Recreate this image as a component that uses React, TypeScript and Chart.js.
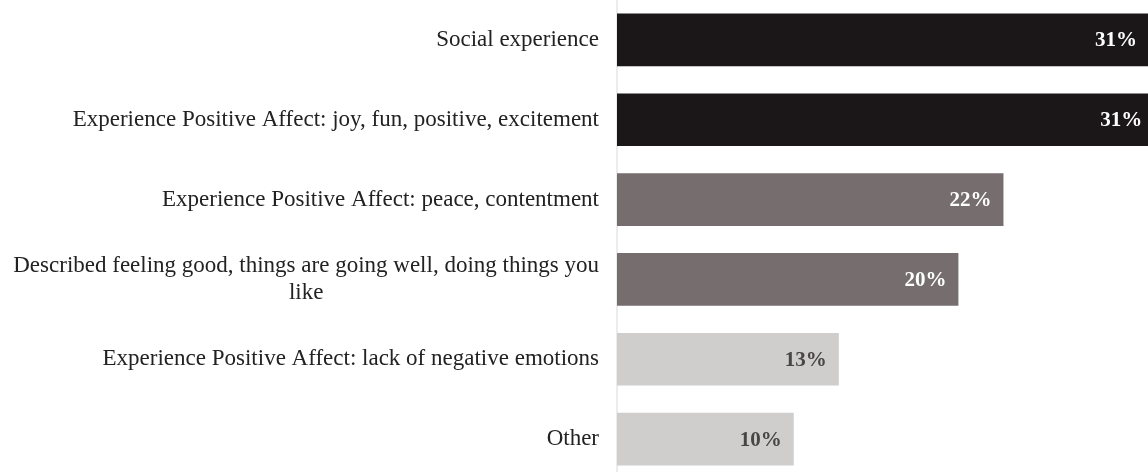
import React, { useEffect, useRef } from "react";
import { Chart, registerables } from "chart.js";

Chart.register(...registerables);

// ---- data ----
const categories: (string | string[])[] = [
  "Social experience",
  "Experience Positive Affect: joy, fun, positive, excitement",
  "Experience Positive Affect: peace, contentment",
  ["Described feeling good, things are going well, doing things you", "like"],
  "Experience Positive Affect: lack of negative emotions",
  "Other",
];
const values: number[] = [30.7, 31.0, 22.3, 19.7, 12.8, 10.2];
const valueLabels: string[] = ["31%", "31%", "22%", "20%", "13%", "10%"];

// ---- styles ----
const barColors = ["#1b1718", "#1b1718", "#756d6e", "#756d6e", "#d0cdcd", "#d0cdcd"];
const labelColors = ["#ffffff", "#ffffff", "#ffffff", "#ffffff", "#4a4545", "#4a4545"];
const SERIF = '"Liberation Serif", "Times New Roman", serif';

const categoryLabelPlugin = {
  id: "categoryLabels",
  afterDraw(chart: any) {
    const ctx = chart.ctx;
    const yScale = chart.scales.y;
    const right = chart.chartArea.left - 18;
    const lineHeight = 27;
    ctx.save();
    ctx.font = `23px ${SERIF}`;
    ctx.fillStyle = "#222222";
    ctx.textBaseline = "middle";
    ctx.textAlign = "center";
    categories.forEach((lab, i) => {
      const lines = Array.isArray(lab) ? lab : [lab];
      const w = Math.max(...lines.map((l) => ctx.measureText(l).width));
      const cx = right - w / 2;
      const cy = yScale.getPixelForTick(i);
      lines.forEach((l, j) => {
        ctx.fillText(l, cx, cy + (j - (lines.length - 1) / 2) * lineHeight);
      });
    });
    ctx.restore();
  },
};

const valueLabelPlugin = {
  id: "valueLabels",
  afterDatasetsDraw(chart: any) {
    const ctx = chart.ctx;
    const meta = chart.getDatasetMeta(0);
    ctx.save();
    ctx.font = `bold 21px ${SERIF}`;
    ctx.textBaseline = "middle";
    ctx.textAlign = "right";
    meta.data.forEach((el: any, i: number) => {
      const end = el.x;
      ctx.fillStyle = labelColors[i];
      ctx.fillText(valueLabels[i], end - 12, el.y + 1);
    });
    ctx.restore();
  },
};

export default function App() {
  const canvasRef = useRef<HTMLCanvasElement | null>(null);

  useEffect(() => {
    if (!canvasRef.current) return;
    const chart = new Chart(canvasRef.current, {
      type: "bar",
      data: {
        labels: categories as any,
        datasets: [
          {
            data: values,
            backgroundColor: barColors,
            borderWidth: 0,
            barPercentage: 0.66,
            categoryPercentage: 1,
          },
        ],
      },
      options: {
        indexAxis: "y",
        responsive: false,
        animation: false,
        layout: { padding: { left: 617, right: 0, top: 0, bottom: 0 } },
        plugins: {
          legend: { display: false },
          tooltip: { enabled: false },
        },
        scales: {
          x: {
            display: false,
            min: 0,
            max: 30.64,
          },
          y: {
            display: true,
            ticks: { display: false },
            grid: { display: false, drawTicks: false },
            border: { display: true, color: "#ececec", width: 2 },
          },
        },
      },
      plugins: [categoryLabelPlugin, valueLabelPlugin],
    });
    return () => chart.destroy();
  }, []);

  return (
    <div
      style={{
        position: "absolute",
        left: 0,
        top: 0,
        width: 1148,
        height: 472,
        overflow: "hidden",
        background: "#ffffff",
      }}
    >
      <canvas ref={canvasRef} width={1148} height={479} style={{ display: "block" }} />
    </div>
  );
}
